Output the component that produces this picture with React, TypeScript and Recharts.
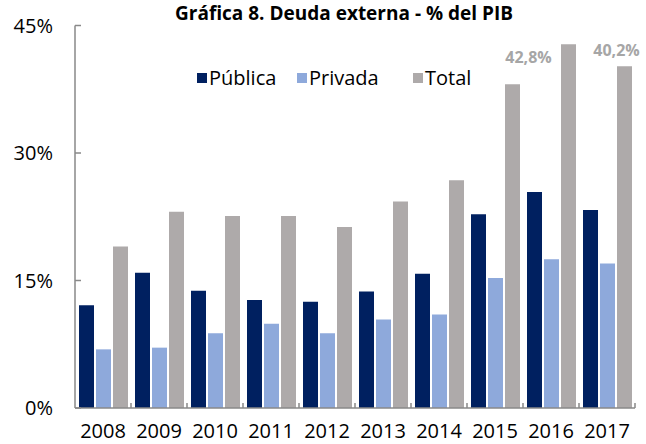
import { BarChart, Bar, XAxis, YAxis, LabelList } from 'recharts';

const years = ['2008', '2009', '2010', '2011', '2012', '2013', '2014', '2015', '2016', '2017'];
const publica = [12.1, 15.9, 13.8, 12.7, 12.5, 13.7, 15.8, 22.8, 25.4, 23.3];
const privada = [6.9, 7.1, 8.8, 9.9, 8.8, 10.4, 11.0, 15.3, 17.5, 17.0];
const total = [19.0, 23.1, 22.6, 22.6, 21.3, 24.3, 26.8, 38.1, 42.8, 40.2];
const yTicks = [0, 15, 30, 45];
const seriesNames = ['Pública', 'Privada', 'Total'];
const seriesColors = ['#002060', '#8EA9DB', '#AEAAAA'];
// only the last two totals carry a label in the original
const labelled = [8, 9];

const data = years.map((year, i) => ({
  year,
  publica: publica[i],
  privada: privada[i],
  total: total[i],
}));

const font = '"Open Sans", sans-serif';
// left edge of each legend swatch
const legendLeft = [197, 297, 413];

function YearTick(props: any) {
  const { x, y, payload } = props;
  const edge = x + (payload.offset ?? 28);
  return (
    <g>
      <line x1={edge} x2={edge} y1={y - 5} y2={y} stroke="#898989" strokeWidth={1.5} />
      <text x={x} y={y + 30} textAnchor="middle" fontSize={20} fill="#000" fontFamily={font}>
        {payload.value}
      </text>
    </g>
  );
}

function TotalLabel(props: any) {
  const { x, y, width, value, index } = props;
  if (!labelled.includes(index)) return null;
  // 2016 label sits left of its bar, 2017 above it
  const dx = index === 8 ? -40 : -8;
  const dy = index === 8 ? 19 : -10;
  return (
    <text
      x={x + width / 2 + dx}
      y={y + dy}
      textAnchor="middle"
      fontSize={16}
      fontWeight="bold"
      fill="#A6A6A6"
      fontFamily={font}
    >
      {value.toFixed(1).replace('.', ',')}%
    </text>
  );
}

export default function App() {
  return (
    <div style={{ position: 'absolute', left: 0, top: 0, width: 646, height: 444, background: '#fff', fontFamily: font }}>
      <svg width={646} height={30} style={{ position: 'absolute', left: 0, top: 0 }}>
        <text x={344} y={20} textAnchor="middle" fontSize={19} fontWeight="bold" fill="#000" fontFamily={font}>
          Gráfica 8. Deuda externa - % del PIB
        </text>
      </svg>
      {seriesNames.map((name, i) => (
        <div
          key={name}
          style={{ position: 'absolute', left: legendLeft[i], top: 64, display: 'flex', alignItems: 'center', fontSize: 20, lineHeight: '28px' }}
        >
          <span style={{ width: 10, height: 10, background: seriesColors[i], marginRight: 2, display: 'inline-block' }} />
          <span>{name}</span>
        </div>
      ))}
      <BarChart
        width={646}
        height={444}
        data={data}
        margin={{ top: 25.5, right: 11, bottom: 0, left: 0 }}
        barCategoryGap={4}
        barGap={2}
      >
        <XAxis
          dataKey="year"
          height={36}
          tickSize={0}
          tickMargin={0}
          tickLine={false}
          axisLine={{ stroke: '#898989', strokeWidth: 1.5 }}
          tick={<YearTick />}
          interval={0}
        />
        <YAxis
          width={75}
          domain={[0, 45]}
          ticks={yTicks}
          tickFormatter={(v: number) => `${v}%`}
          tickSize={-6}
          tickMargin={28}
          tickLine={{ stroke: '#898989', strokeWidth: 1.5 }}
          axisLine={{ stroke: '#898989', strokeWidth: 1.5 }}
          tick={{ fontSize: 20, fill: '#000', fontFamily: font }}
        />
        <Bar dataKey="publica" name={seriesNames[0]} fill={seriesColors[0]} isAnimationActive={false} />
        <Bar dataKey="privada" name={seriesNames[1]} fill={seriesColors[1]} isAnimationActive={false} />
        <Bar dataKey="total" name={seriesNames[2]} fill={seriesColors[2]} isAnimationActive={false}>
          <LabelList dataKey="total" content={<TotalLabel />} />
        </Bar>
      </BarChart>
    </div>
  );
}
